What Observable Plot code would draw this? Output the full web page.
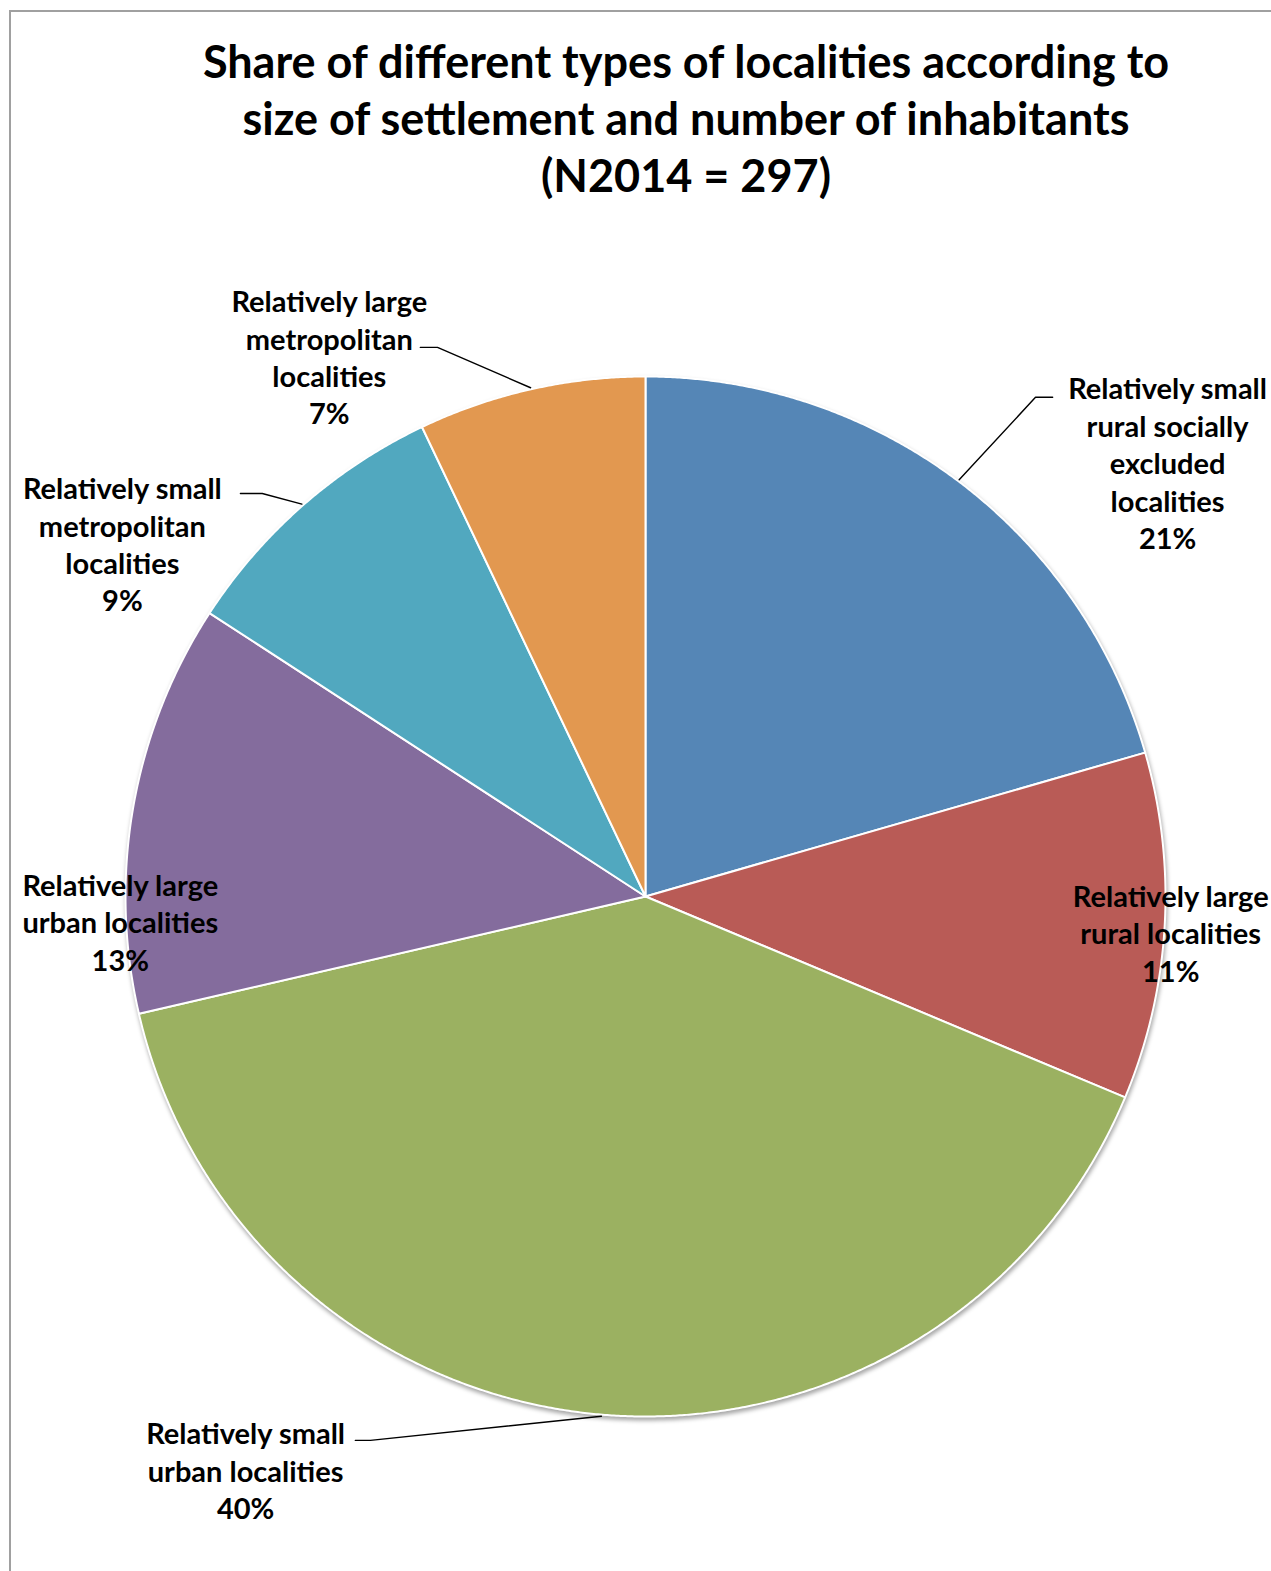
<!DOCTYPE html>
<html><head><meta charset="utf-8">
<script src="https://cdn.jsdelivr.net/npm/d3@7"></script>
<script src="https://cdn.jsdelivr.net/npm/@observablehq/plot@0.6"></script>
<style>
html,body{margin:0;padding:0;background:#fff;overflow:hidden;width:1271px;height:1571px;}
#frame{position:absolute;left:9px;top:10px;width:1400px;height:1700px;border-left:2px solid #a0a0a0;border-top:2px solid #a0a0a0;}
#title{position:absolute;left:686px;top:33px;transform:translateX(-50%);white-space:nowrap;text-align:center;
  font-family:Lato,"Open Sans",sans-serif;font-weight:700;font-size:45px;line-height:57px;color:#000;}
#chart{position:absolute;left:0;top:240px;}
</style></head>
<body>
<div id="frame"></div>
<div id="title">Share of different types of localities according to<br>size of settlement and number of inhabitants<br>(N2014 = 297)</div>
<div id="chart"></div>
<script>
// ---- data ----
const categories = [
  "Relatively small rural socially excluded localities",
  "Relatively large rural localities",
  "Relatively small urban localities",
  "Relatively large urban localities",
  "Relatively small metropolitan localities",
  "Relatively large metropolitan localities"
];
const counts = [61, 32, 119, 38, 26, 21]; // N = 297
const labelLines = [
  ["Relatively small", "rural socially", "excluded", "localities"],
  ["Relatively large", "rural localities"],
  ["Relatively small", "urban localities"],
  ["Relatively large", "urban localities"],
  ["Relatively small", "metropolitan", "localities"],
  ["Relatively large", "metropolitan", "localities"]
];
const sliceColors = ["#5586b6", "#b95b56", "#9bb161", "#846c9d", "#51a8bf", "#e29850"];

// ---- layout (unit = pie radius, y up) ----
const labelPos = [[1.004, 0.835], [1.010, -0.069], [-0.769, -1.102], [-1.010, -0.048], [-1.006, 0.679], [-0.608, 1.039]];
const leaderElbow = [[0.75, 0.96, 0.783], null, [-0.529, -1.046, -0.558], null, [-0.737, 0.775, -0.779], [-0.40, 1.056, -0.433]];

const W = 1271, H = 1331, cx = 645, cy = 656, R = 520;
const total = d3.sum(counts);
const arcs = d3.pie().sort(null).value(d => d)(counts);

const slicePts = [];
arcs.forEach((a, i) => {
  const name = categories[i];
  slicePts.push({name, x: 0, y: 0});
  const n = Math.max(2, Math.ceil((a.endAngle - a.startAngle) / (Math.PI / 720)));
  for (let k = 0; k <= n; k++) {
    const t = a.startAngle + (a.endAngle - a.startAngle) * k / n;
    slicePts.push({name, x: Math.sin(t), y: Math.cos(t)});
  }
  slicePts.push({name, x: 0, y: 0});
});

const labels = arcs.map((a, i) => ({
  x: labelPos[i][0], y: labelPos[i][1],
  text: labelLines[i].join("\n") + "\n" + Math.round(100 * counts[i] / total) + "%"
}));

const leaderPts = [];
arcs.forEach((a, i) => {
  const e = leaderElbow[i];
  if (!e) return;
  const m = (a.startAngle + a.endAngle) / 2;
  leaderPts.push({k: i, x: Math.sin(m) * 1.003, y: Math.cos(m) * 1.003});
  leaderPts.push({k: i, x: e[0], y: e[1]});
  leaderPts.push({k: i, x: e[2], y: e[1]});
});

const svg = Plot.plot({
  width: W, height: H,
  margin: 0,
  x: {domain: [-cx / R, (W - cx) / R], range: [0, W], axis: null},
  y: {domain: [-(H - cy) / R, cy / R], range: [H, 0], axis: null},
  color: {domain: categories, range: sliceColors},
  style: {background: "transparent", overflow: "hidden"},
  marks: [
    Plot.line(slicePts, {x: "x", y: "y", z: "name", fill: "name", stroke: "white", strokeWidth: 2, strokeLinejoin: "round"}),
    Plot.line(leaderPts, {x: "x", y: "y", z: "k", stroke: "#000", strokeWidth: 1.4}),
    Plot.text(labels, {x: "x", y: "y", text: "text", fill: "#000", fontSize: 29, fontWeight: 700,
      fontFamily: "Lato, 'Open Sans', sans-serif", lineHeight: 1.29, lineAnchor: "middle", textAnchor: "middle"})
  ]
});
const g = svg.querySelector('g[aria-label="line"]');
if (g) g.style.filter = "drop-shadow(1px 3px 2px rgba(0,0,0,0.35))";
document.getElementById("chart").appendChild(svg);
</script>
</body></html>
